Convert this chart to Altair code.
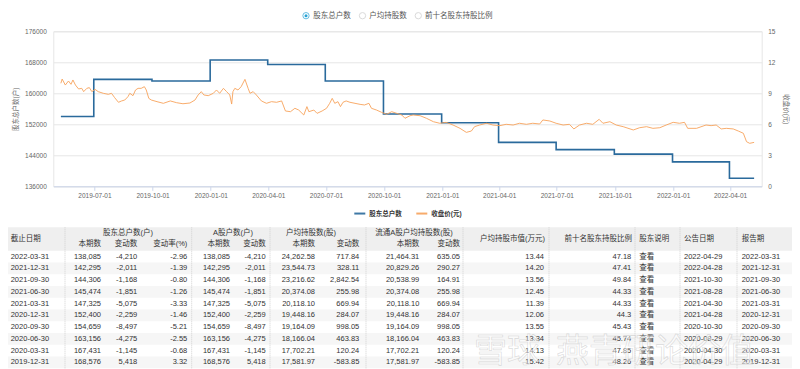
import altair as alt
import pandas as pd

# ---------------- chart data ----------------
holder_dates = ["2019-05-09", "2019-06-30", "2019-09-30", "2019-12-31", "2020-03-31",
                "2020-06-30", "2020-09-30", "2020-12-31", "2021-03-31", "2021-06-30",
                "2021-09-30", "2021-12-31", "2022-03-31", "2022-05-09"]
holder_counts = [154000, 163600, 163158, 168576, 167431, 163156, 154659, 152400,
                 147325, 145474, 144306, 142295, 138085, 138085]

price_dates = [
    "2019-05-09", "2019-05-11", "2019-05-16", "2019-05-21", "2019-05-25", "2019-05-28",
    "2019-06-01", "2019-06-06", "2019-06-11", "2019-06-14", "2019-06-19", "2019-06-23", "2019-06-27",
    "2019-07-02", "2019-07-07", "2019-07-15", "2019-07-23", "2019-07-28",
    "2019-08-02", "2019-08-08", "2019-08-13", "2019-08-18", "2019-08-23", "2019-08-26", "2019-08-31",
    "2019-09-04", "2019-09-08", "2019-09-13", "2019-09-18", "2019-09-21", "2019-09-25", "2019-09-29",
    "2019-10-08", "2019-10-18", "2019-10-29", "2019-11-08", "2019-11-18", "2019-11-29",
    "2019-12-07", "2019-12-12", "2019-12-17", "2019-12-21", "2019-12-28",
    "2020-01-05", "2020-01-10", "2020-01-15", "2020-01-21", "2020-01-26", "2020-01-31",
    "2020-02-03", "2020-02-05", "2020-02-08", "2020-02-13", "2020-02-18", "2020-02-24", "2020-02-29",
    "2020-03-03", "2020-03-08", "2020-03-13", "2020-03-21", "2020-03-29",
    "2020-04-06", "2020-04-14", "2020-04-22", "2020-04-28",
    "2020-05-06", "2020-05-13", "2020-05-19", "2020-05-27",
    "2020-06-01", "2020-06-04", "2020-06-12", "2020-06-17", "2020-06-25",
    "2020-07-02", "2020-07-07", "2020-07-11", "2020-07-15", "2020-07-20", "2020-07-24", "2020-07-28",
    "2020-08-02", "2020-08-08", "2020-08-16", "2020-08-24", "2020-08-31",
    "2020-09-07", "2020-09-11", "2020-09-19", "2020-09-27",
    "2020-10-05", "2020-10-13", "2020-10-21", "2020-10-29",
    "2020-11-03", "2020-11-11", "2020-11-16", "2020-11-27",
    "2020-12-07", "2020-12-18", "2020-12-28",
    "2021-01-07", "2021-01-18", "2021-01-29", "2021-02-08", "2021-02-16", "2021-02-21",
    "2021-03-01", "2021-03-12", "2021-03-22", "2021-04-02", "2021-04-12", "2021-04-23",
    "2021-05-03", "2021-05-14", "2021-05-24", "2021-06-04", "2021-06-09", "2021-06-20", "2021-06-30",
    "2021-07-11", "2021-07-21", "2021-07-28", "2021-08-06", "2021-08-17", "2021-08-27",
    "2021-09-06", "2021-09-12", "2021-09-23", "2021-10-03", "2021-10-14", "2021-10-30",
    "2021-11-09", "2021-11-20", "2021-11-30", "2021-12-11", "2021-12-21",
    "2022-01-01", "2022-01-11", "2022-01-19", "2022-01-24", "2022-02-07", "2022-02-22",
    "2022-03-02", "2022-03-10", "2022-03-18", "2022-03-26",
    "2022-04-06", "2022-04-14", "2022-04-22", "2022-04-27", "2022-05-02", "2022-05-09"]
price_values = [
    9.97, 10.38, 9.80, 10.19, 9.87, 10.29,
    9.80, 9.42, 9.48, 9.16, 9.48, 9.55, 9.16,
    9.38, 9.16, 9.00, 8.90, 9.00,
    8.58, 8.13, 8.26, 8.35, 8.67, 9.00, 8.77,
    9.32, 9.48, 9.48, 9.64, 9.32, 8.51, 8.35,
    8.19, 8.03, 8.26, 8.09, 7.99, 8.06,
    8.35, 8.84, 9.16, 8.84, 8.77,
    9.00, 9.32, 9.00, 9.48, 9.16, 8.84,
    7.96, 9.16, 9.48, 9.32, 9.64, 10.35, 9.48,
    9.00, 9.16, 8.84, 8.26, 8.03,
    8.19, 8.13, 8.26, 7.29,
    7.22, 7.55, 7.38, 6.90,
    7.71, 7.22, 7.38, 7.06, 7.29,
    7.55, 8.03, 8.51, 8.03, 8.19, 7.71, 8.13,
    8.26, 8.13, 8.03, 7.93, 7.87,
    8.03, 7.55, 7.38, 7.16,
    6.97, 7.22, 7.06, 6.90,
    6.58, 6.83, 6.90, 6.83,
    6.58, 6.25, 6.10,
    6.19, 5.93, 5.61, 5.22, 5.35, 5.77,
    5.93, 6.10, 5.93, 5.87, 6.00, 5.93,
    6.10, 6.00, 6.10, 6.03, 6.42, 6.32, 6.10,
    5.93, 6.00, 5.55, 5.93, 6.10, 6.00,
    6.48, 6.10, 6.25, 5.93, 5.77, 5.45,
    5.67, 5.77, 5.61, 5.67, 5.93,
    6.19, 6.10, 6.19, 5.61, 5.61, 5.93,
    5.87, 5.93, 5.55, 5.61,
    5.55, 5.35, 5.13, 4.32, 4.16, 4.25]
assert len(price_dates) == len(price_values)

x_ticks = ["2019-07-01", "2019-10-01", "2020-01-01", "2020-04-01", "2020-07-01", "2020-10-01",
           "2021-01-01", "2021-04-01", "2021-07-01", "2021-10-01", "2022-01-01", "2022-04-01"]
x_domain = ["2019-04-27", "2022-05-21"]
left_ticks = [136000, 144000, 152000, 160000, 168000, 176000]
right_ticks = [0, 3, 6, 9, 12, 15]
series_names = ["股东总户数", "收盘价(元)"]
radio_labels = ["股东总户数", "户均持股数", "前十名股东持股比例"]

# ---------------- table data ----------------
tbl_end = ["2022-03-31", "2021-12-31", "2021-09-30", "2021-06-30", "2021-03-31",
           "2020-12-31", "2020-09-30", "2020-06-30", "2020-03-31", "2019-12-31"]
tbl_total = ["138,085", "142,295", "144,306", "145,474", "147,325",
             "152,400", "154,659", "163,156", "167,431", "168,576"]
tbl_total_chg = ["-4,210", "-2,011", "-1,168", "-1,851", "-5,075",
                 "-2,259", "-8,497", "-4,275", "-1,145", "5,418"]
tbl_total_pct = ["-2.96", "-1.39", "-0.80", "-1.26", "-3.33",
                 "-1.46", "-5.21", "-2.55", "-0.68", "3.32"]
tbl_a = list(tbl_total)
tbl_a_chg = list(tbl_total_chg)
tbl_avg = ["24,262.58", "23,544.73", "23,216.62", "20,374.08", "20,118.10",
           "19,448.16", "19,164.09", "18,166.04", "17,702.21", "17,581.97"]
tbl_avg_chg = ["717.84", "328.11", "2,842.54", "255.98", "669.94",
               "284.07", "998.05", "463.83", "120.24", "-583.85"]
tbl_favg = ["21,464.31", "20,829.26", "20,538.99", "20,374.08", "20,118.10",
            "19,448.16", "19,164.09", "18,166.04", "17,702.21", "17,581.97"]
tbl_favg_chg = ["635.05", "290.27", "164.91", "255.98", "669.94",
                "284.07", "998.05", "463.83", "120.24", "-583.85"]
tbl_mv = ["13.44", "14.20", "13.56", "12.45", "11.39", "12.06", "13.55", "13.34", "14.13", "15.42"]
tbl_top10 = ["47.18", "47.41", "49.84", "44.33", "44.33", "44.3", "45.43", "45.74", "47.85", "48.26"]
tbl_note = ["查看"] * 10
tbl_pub = ["2022-04-29", "2022-04-28", "2021-10-30", "2021-08-28", "2021-04-30",
           "2021-04-28", "2020-10-30", "2020-08-29", "2020-04-30", "2020-04-29"]
tbl_report = list(tbl_end)

group_headers = ["股东总户数(户)", "A股户数(户)", "户均持股数(股)", "流通A股户均持股数(股)"]
sub_headers = ["本期数", "变动数", "变动率(%)", "本期数", "变动数", "本期数", "变动数", "本期数", "变动数"]
tall_headers = ["截止日期", "户均持股市值(万元)", "前十名股东持股比例", "股东说明", "公告日期", "报告期"]
watermark_parts = ["雪球", "燕青研论价值"]

# ---------------- layout (page pixels) ----------------
PL, PT, PW, PH = 53.3, 31.3, 708.4, 155.0
ROW0, ROWH = 256.7, 11.75
col_x = [10.7, 101, 137.3, 187.3, 230, 265.7, 315, 359.3, 419.3, 460, 544, 631.3, 639.3, 684, 741.7]
col_align = ["left"] + ["right"] * 11 + ["left"] * 3
group_x = [128, 233, 311, 414]
sub_x = [101, 137.3, 187.3, 230, 265.7, 315, 359.3, 419.3, 460]
tall_x = [10.7, 545, 632, 639.3, 684, 741.7]
tall_align = ["left", "right", "right", "left", "left", "left"]
sep_x = [65, 191.7, 270, 366, 463, 549, 635, 680, 737]
radio_cx = [306, 362.5, 418.3]
radio_tx = [313.3, 369.3, 425]
wm_x = [474, 556]
CANVAS_H = 361

BLUE, ORANGE = "#2a6a9c", "#f7a35c"
FONT = "Liberation Sans, 'Noto Sans CJK SC', sans-serif"
AX = "#666666"
TXT = "#333333"


def dt(s):
    y, m, d = (int(v) for v in s.split("-"))
    return alt.DateTime(year=y, month=m, date=d, utc=True)


x_scale = alt.Scale(type="utc", domain=[dt(s) for s in x_domain])
tx = alt.Scale(domain=[0, 800], range=[-PL, 800 - PL], nice=False, zero=False)
ty = alt.Scale(domain=[0, 9], range=[ROW0 - PT, ROW0 + 9 * ROWH - PT], nice=False, zero=False)
color_scale = alt.Scale(domain=series_names, range=[BLUE, ORANGE])

legend = alt.Legend(title=None, orient="none", legendX=300, legendY=175.5, direction="horizontal",
                    symbolType="stroke", symbolSize=121, symbolStrokeWidth=2,
                    labelFont=FONT, labelFontSize=6.5, labelColor=TXT, labelFontWeight="bold",
                    labelOffset=3, columnPadding=10, padding=0)

# ---------------- line layers ----------------
df_h = pd.DataFrame({"date": holder_dates, "value": holder_counts, "series": series_names[0]})
df_p = pd.DataFrame({"date": price_dates, "value": price_values, "series": series_names[1]})

blue = alt.Chart(df_h).mark_line(interpolate="step-after", strokeWidth=1.6).encode(
    x=alt.X("date:T", scale=x_scale, title=None,
            axis=alt.Axis(values=[dt(s) for s in x_ticks], format="%Y-%m-%d", grid=False,
                          labelFont=FONT, labelFontSize=6.5, labelColor=AX, labelPadding=2,
                          tickSize=4, tickColor="#ccd6eb", domainColor="#ccd6eb", labelFlush=False)),
    y=alt.Y("value:Q", scale=alt.Scale(domain=[136000, 176000], nice=False, zero=False),
            axis=alt.Axis(orient="left", values=left_ticks, format="d", grid=True, gridColor="#e6e6e6",
                          domain=False, ticks=False, labelPadding=7, labelFont=FONT,
                          labelFontSize=6.5, labelColor=AX, title="股东总户数(户)",
                          titleFont=FONT, titleFontSize=6.5, titleFontWeight="normal",
                          titleColor=AX, titleAngle=270, titleX=-38.3, titleY=PH / 2,
                          titleAlign="center", titleBaseline="middle")),
    color=alt.Color("series:N", scale=color_scale, legend=legend),
)

orange = alt.Chart(df_p).mark_line(strokeWidth=1, opacity=0.9).encode(
    x=alt.X("date:T", scale=x_scale, axis=None),
    y=alt.Y("value:Q", scale=alt.Scale(domain=[0, 15], nice=False, zero=False),
            axis=alt.Axis(orient="right", values=right_ticks, grid=False, domain=False, ticks=False,
                          labelPadding=6, labelFont=FONT, labelFontSize=6.5, labelColor=AX,
                          title="收盘价(元)", titleFont=FONT, titleFontSize=6.5,
                          titleFontWeight="normal", titleColor=AX, titleAngle=90,
                          titleX=23.3, titleY=PH / 2, titleAlign="center",
                          titleBaseline="middle")),
    color=alt.Color("series:N", scale=color_scale, legend=legend),
)

# ---------------- table layers ----------------
df_hbg = pd.DataFrame({"x1": [4], "x2": [797], "r1": [-2.5], "r2": [-0.5]})
header_bg = alt.Chart(df_hbg).mark_rect(color="#efefef").encode(
    x=alt.X("x1:Q", scale=tx, axis=None), x2="x2:Q",
    y=alt.Y("r1:Q", scale=ty, axis=None), y2="r2:Q")

stripe_rows = [i for i in range(len(tbl_end)) if i % 2 == 1]
df_str = pd.DataFrame({"x1": 4, "x2": 797, "r1": [i - 0.5 for i in stripe_rows],
                       "r2": [i + 0.5 for i in stripe_rows]})
stripes = alt.Chart(df_str).mark_rect(color="#f6f6f6").encode(
    x=alt.X("x1:Q", scale=tx, axis=None), x2="x2:Q",
    y=alt.Y("r1:Q", scale=ty, axis=None), y2="r2:Q")

df_sep = pd.DataFrame({"sx": sep_x, "r1": -2.5, "r2": 10.5})
seps = alt.Chart(df_sep).mark_rule(color="#d0d0d0", strokeDash=[1, 1], strokeWidth=1).encode(
    x=alt.X("sx:Q", scale=tx, axis=None),
    y=alt.Y("r1:Q", scale=ty, axis=None), y2="r2:Q")

value_cols = [tbl_end, tbl_total, tbl_total_chg, tbl_total_pct, tbl_a, tbl_a_chg, tbl_avg,
              tbl_avg_chg, tbl_favg, tbl_favg_chg, tbl_mv, tbl_top10, tbl_note, tbl_pub, tbl_report]
cells = []
for col, x, al in zip(value_cols, col_x, col_align):
    for i, v in enumerate(col):
        cells.append({"text": v, "cx": x, "row": i, "align": al})
for t, x, al in zip(tall_headers, tall_x, tall_align):
    cells.append({"text": t, "cx": x, "row": -1.5, "align": al})
for t, x in zip(group_headers, group_x):
    cells.append({"text": t, "cx": x, "row": -2.05, "align": "center"})
for t, x in zip(sub_headers, sub_x):
    cells.append({"text": t, "cx": x, "row": -1.05, "align": "right"})
df_cells = pd.DataFrame(cells)


def text_layer(al):
    return alt.Chart(df_cells[df_cells["align"] == al]).mark_text(
        align=al, baseline="middle", font=FONT, fontSize=7.5, color=TXT).encode(
        x=alt.X("cx:Q", scale=tx, axis=None),
        y=alt.Y("row:Q", scale=ty, axis=None),
        text="text:N")


# ---------------- top radio legend ----------------
df_radio = pd.DataFrame({"label": radio_labels, "cx": radio_cx, "tx": radio_tx,
                         "sel": [True, False, False]})
radio_ring = alt.Chart(df_radio).mark_point(shape="circle", size=40, strokeWidth=1, filled=False).encode(
    x=alt.X("cx:Q", scale=tx, axis=None), y=alt.value(15.7 - PT),
    stroke=alt.condition("datum.sel", alt.value("#29a3d5"), alt.value("#cccccc")))
radio_dot = alt.Chart(df_radio[df_radio["sel"]]).mark_point(shape="circle", size=9, filled=True,
                                                           color="#29a3d5", opacity=1).encode(
    x=alt.X("cx:Q", scale=tx, axis=None), y=alt.value(15.7 - PT))
radio_text = alt.Chart(df_radio).mark_text(align="left", baseline="middle", font=FONT,
                                           fontSize=7.5, color="#555555").encode(
    x=alt.X("tx:Q", scale=tx, axis=None), y=alt.value(15.7 - PT), text="label:N")

# ---------------- watermark ----------------
df_wm = pd.DataFrame({"text": watermark_parts, "cx": wm_x})
wm = alt.Chart(df_wm).mark_text(align="left", baseline="middle", font=FONT, fontSize=33,
                                fill="#ffffff", fillOpacity=0.5, stroke="#b4b4b4",
                                strokeOpacity=0.45, strokeWidth=0.7).encode(
    x=alt.X("cx:Q", scale=tx, axis=None), y=alt.value(352 - PT), text="text:N")

chart = alt.layer(
    header_bg, stripes, seps, blue, orange,
    text_layer("left"), text_layer("right"), text_layer("center"),
    radio_ring, radio_dot, radio_text, wm,
).resolve_scale(x="independent", y="independent").properties(
    width=PW, height=PH,
    autosize=alt.AutoSizeParams(type="none"),
    padding={"left": PL - 8, "top": PT - 8, "right": 792 - PL - PW,
             "bottom": CANVAS_H - (PT - 8) - PH},
).configure(font=FONT, background="white").configure_view(stroke="#e6e6e6")

chart.save("out.html", embed_options={"renderer": "svg", "actions": False})
